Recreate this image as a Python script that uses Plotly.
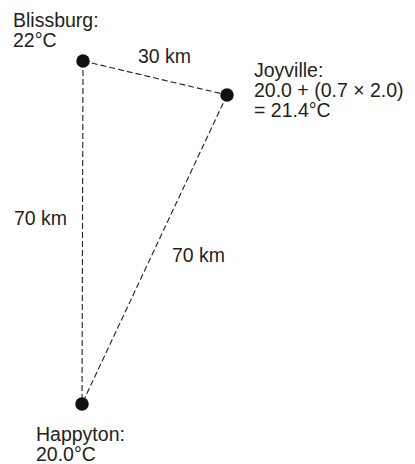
import plotly.graph_objects as go

# City positions on the sketch (diagram coordinates)
city_names = ["Blissburg", "Joyville", "Happyton"]
city_x = [83, 227, 82]
city_y = [61, 95, 404]

# Label lines for each city
city_labels = [
    ["Blissburg:", "22°C"],
    ["Joyville:", "20.0 + (0.7 × 2.0)", "= 21.4°C"],
    ["Happyton:", "20.0°C"],
]

# Connections and their distances
edges = [(0, 1), (0, 2), (1, 2)]
edge_labels = ["30 km", "70 km", "70 km"]

TXT = "#231f20"
FONT = dict(family="Liberation Sans, Arial, Helvetica, sans-serif", size=19.5, color=TXT)

fig = go.Figure()

for a, b in edges:
    fig.add_trace(go.Scatter(
        x=[city_x[a], city_x[b]], y=[city_y[a], city_y[b]],
        mode="lines", line=dict(color="#231f20", width=1.1, dash="6px,3px"),
        hoverinfo="skip", showlegend=False))

fig.add_trace(go.Scatter(
    x=city_x, y=city_y, mode="markers",
    marker=dict(size=13.5, color="#111111"),
    text=city_names, hoverinfo="text", showlegend=False))

# label placement: (dx of left edge, dy of first line centre)
label_offsets = [(-71, -41), (26, -25), (-47, 30)]
line_step = 20
for i, lines in enumerate(city_labels):
    dx, dy = label_offsets[i]
    for k, t in enumerate(lines):
        fig.add_annotation(x=city_x[i] + dx, y=city_y[i] + dy + k * line_step,
                           text=t, showarrow=False, xanchor="left", yanchor="middle",
                           font=FONT, borderpad=0)

# distance label placement relative to edge midpoint
edge_offsets = [(-18, -22), (-70, -14.5), (16.5, 5.5)]
for j, (a, b) in enumerate(edges):
    mx = (city_x[a] + city_x[b]) / 2
    my = (city_y[a] + city_y[b]) / 2
    dx, dy = edge_offsets[j]
    fig.add_annotation(x=mx + dx, y=my + dy, text=edge_labels[j], showarrow=False,
                       xanchor="left", yanchor="middle", font=FONT, borderpad=0)

fig.update_layout(
    width=415, height=464, margin=dict(l=0, r=0, t=0, b=0),
    paper_bgcolor="white", plot_bgcolor="white",
    xaxis=dict(range=[0, 415], visible=False, fixedrange=True),
    yaxis=dict(range=[464, 0], visible=False, fixedrange=True),
)

fig.write_html("out.html", config={"displayModeBar": False},
               post_script="document.body.style.margin='0';")
